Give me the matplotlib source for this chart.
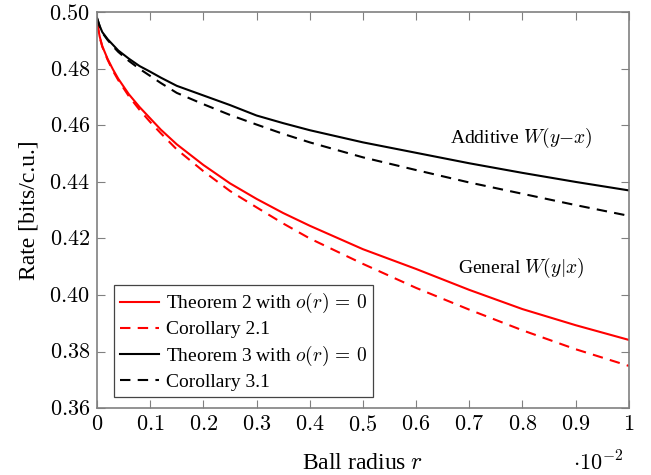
import numpy as np
import matplotlib
matplotlib.use("Agg")
import matplotlib.pyplot as plt

# Radio de la bola (en unidades de 10^-2)
r = [0, 0.005, 0.01, 0.02, 0.03, 0.04, 0.06, 0.08, 0.1, 0.12, 0.15, 0.2, 0.25,
     0.3, 0.35, 0.4, 0.5, 0.6, 0.7, 0.8, 0.9, 1.0]

# Canal general W(y|x)
teorema2 = [0.4965, 0.4915, 0.488, 0.4835, 0.4798, 0.4765, 0.471, 0.4665, 0.4625,
            0.4585, 0.4533, 0.4460, 0.4395, 0.4340, 0.4290, 0.4245, 0.4162, 0.4092,
            0.4018, 0.3950, 0.3893, 0.3841]
corolario21 = [0.4965, 0.4912, 0.4878, 0.4832, 0.4793, 0.476, 0.4703, 0.4655, 0.4612,
               0.4572, 0.4515, 0.4438, 0.4368, 0.4310, 0.4253, 0.4200, 0.4110, 0.4025,
               0.3948, 0.3875, 0.3808, 0.3749]

# Canal aditivo W(y-x)
teorema3 = [0.498, 0.4952, 0.493, 0.4905, 0.4885, 0.4865, 0.4836, 0.481, 0.4790,
            0.4769, 0.4740, 0.4706, 0.4672, 0.4635, 0.4608, 0.4583, 0.4540, 0.4503,
            0.4466, 0.4432, 0.4400, 0.4370]
corolario31 = [0.498, 0.4951, 0.4928, 0.4902, 0.4880, 0.486, 0.4828, 0.480, 0.4775,
               0.4750, 0.4715, 0.4675, 0.4637, 0.4603, 0.4570, 0.4540, 0.4487, 0.4442,
               0.4398, 0.4358, 0.4318, 0.4280]

xticks = [0, 0.1, 0.2, 0.3, 0.4, 0.5, 0.6, 0.7, 0.8, 0.9, 1]
xtick_labels = ["0", "0.1", "0.2", "0.3", "0.4", "0.5", "0.6", "0.7", "0.8", "0.9", "1"]
yticks = [0.36, 0.38, 0.40, 0.42, 0.44, 0.46, 0.48, 0.50]

plt.rcParams['font.family'] = ['Liberation Serif', 'DejaVu Serif']
plt.rcParams['mathtext.fontset'] = 'cm'

fig = plt.figure(figsize=(6.51, 4.75), dpi=100)
ax = fig.add_axes([0.149, 0.141, 0.817, 0.833])

guion = (5, 3.5)
ax.plot(r, teorema2, color='red', lw=1.5, label=r'Theorem 2 with $o(r)\,=\,0$')
ax.plot(r, corolario21, color='red', lw=1.5, dashes=guion, label='Corollary 2.1')
ax.plot(r, teorema3, color='black', lw=1.5, label=r'Theorem 3 with $o(r)\,=\,0$')
ax.plot(r, corolario31, color='black', lw=1.5, dashes=guion, label='Corollary 3.1')

ax.set_xlim(0, 1)
ax.set_ylim(0.36, 0.50)
ax.set_xticks(xticks)
ax.set_xticklabels(['$%s$' % t for t in xtick_labels])
ax.set_yticks(yticks)
ax.set_yticklabels(['$%.2f$' % t for t in yticks])
ax.tick_params(direction='in', length=6, width=0.8, color='#808080',
               top=True, right=True, labelsize=16)
ax.tick_params(axis='x', pad=6)
ax.tick_params(axis='y', pad=5)
for s in ax.spines.values():
    s.set_color('#808080')
    s.set_linewidth(1.2)

ax.set_xlabel(r'Ball radius $r$', fontsize=17, labelpad=12)
ax.set_ylabel('Rate [bits/c.u.]', fontsize=17, labelpad=7)

ax.text(0.942, -0.157, r'$\cdot10^{-2}$', transform=ax.transAxes,
        ha='center', va='baseline', fontsize=16)

# Etiquetas de cada familia de curvas
ax.text(0.797, 0.4555, r'Additive $W(y{-}x)$', ha='center', va='center', fontsize=14)
ax.text(0.797, 0.4095, r'General $W(y|x)$', ha='center', va='center', fontsize=14)

leg = ax.legend(loc='lower left', bbox_to_anchor=(0.032, 0.028), fontsize=14,
                fancybox=False, framealpha=1, edgecolor='#444444', borderaxespad=0,
                handlelength=2.0, handletextpad=0.35, labelspacing=0.28,
                borderpad=0.3)
leg.get_frame().set_linewidth(0.9)

fig.savefig('out.png', dpi=100)
